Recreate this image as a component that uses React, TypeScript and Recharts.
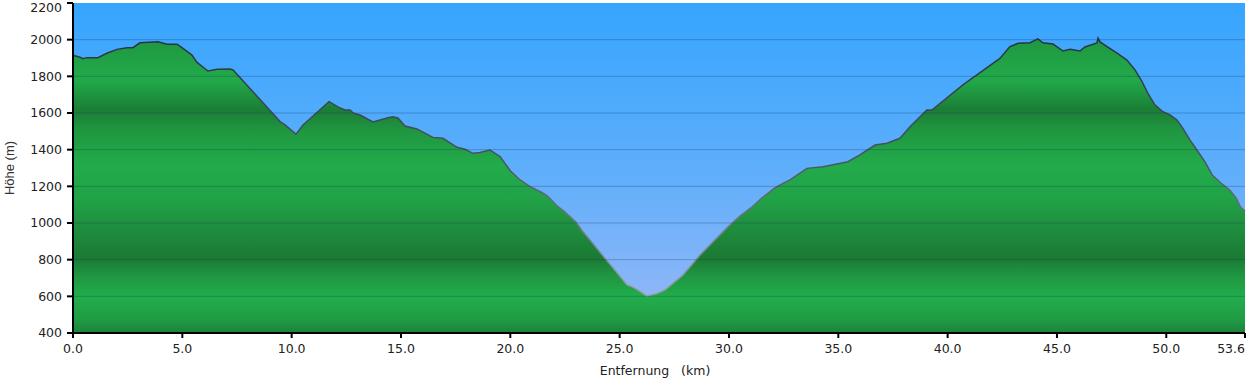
import { AreaChart, Area, XAxis, YAxis, CartesianGrid, ReferenceLine } from 'recharts'

// distance along the route (km) and elevation (m)
const distances = [
  0, 0.32, 0.46, 0.64, 1.14, 1.55, 2.01, 2.47, 2.74, 3.06, 3.89, 4.3, 4.76, 5.03, 5.44, 5.67,
  6.17, 6.59, 7.18, 7.32, 9.47, 9.7, 10.2, 10.52, 11.71, 12.21, 12.44, 12.67, 12.81, 13.13,
  13.72, 14.04, 14.41, 14.63, 14.86, 15.18, 15.73, 16.46, 16.92, 17.56, 17.93, 18.29, 18.61,
  19.07, 19.53, 20.0, 20.4, 20.9, 21.4, 21.7, 22.1, 22.5, 23.0, 23.3, 23.64, 24.33, 25.34,
  25.56, 25.79, 26.25, 26.71, 27.07, 27.9, 28.68, 29.36, 30.0, 30.5, 31.0, 31.5, 32.1, 32.6,
  32.79, 33.57, 34.3, 35.44, 35.99, 36.68, 37.23, 37.82, 38.28, 39.05, 39.28, 40.7, 42.39,
  42.85, 43.22, 43.77, 44.13, 44.36, 44.82, 45.28, 45.6, 46.05, 46.28, 46.83, 46.88, 46.97,
  47.29, 47.75, 48.2, 48.57, 48.89, 49.16, 49.48, 49.85, 50.17, 50.49, 50.76, 51.08, 51.4,
  51.77, 52.1, 52.5, 52.9, 53.2, 53.4, 53.6
]
const elevations = [
  1915, 1904, 1896, 1902, 1902, 1926, 1947, 1956, 1956, 1983, 1989, 1975, 1975, 1953, 1916, 1876,
  1829, 1838, 1840, 1835, 1553, 1535, 1484, 1535, 1662, 1627, 1616, 1616, 1600, 1589,
  1551, 1562, 1574, 1580, 1573, 1529, 1513, 1467, 1462, 1413, 1402, 1380, 1385,
  1398, 1362, 1285, 1240, 1198, 1169, 1147, 1098, 1060, 1005, 955, 907, 807, 662,
  653, 638, 602, 616, 635, 716, 825, 907, 984, 1038, 1082, 1136, 1191, 1224,
  1235, 1298, 1307, 1334, 1371, 1425, 1435, 1462, 1525, 1616, 1616, 1753, 1898,
  1962, 1980, 1983, 2004, 1983, 1976, 1938, 1947, 1938, 1960, 1982, 2008, 1988,
  1962, 1926, 1889, 1835, 1771, 1707, 1644, 1607, 1589, 1562, 1516, 1453, 1398,
  1333, 1262, 1218, 1180, 1136, 1087, 1065
]

const xTicks = [0, 5, 10, 15, 20, 25, 30, 35, 40, 45, 50, 53.6]
const yTicks = [400, 600, 800, 1000, 1200, 1400, 1600, 1800, 2000, 2200]
const gridLevels = [600, 800, 1000, 1200, 1400, 1600, 1800, 2000]

const data = distances.map((km, i) => ({ km, h: elevations[i] }))

const tickFont = { fontFamily: 'DejaVu Sans, Verdana, sans-serif', fontSize: 12.5, fill: '#222' }

function DistanceTick(props: any) {
  const { x, y, payload } = props
  const last = payload.value === xTicks[xTicks.length - 1]
  return (
    <text x={x} y={y} dy="0.71em" textAnchor={last ? 'end' : 'middle'} {...tickFont}>
      {payload.value.toFixed(1)}
    </text>
  )
}

function HeightTick(props: any) {
  const { x, y, payload } = props
  // top label is pushed down so it stays inside the picture
  return (
    <text x={x} y={Math.max(y, 8)} dy="0.355em" textAnchor="end" {...tickFont}>
      {payload.value}
    </text>
  )
}

export default function App() {
  return (
    <div style={{ position: 'absolute', left: 0, top: 0, background: '#fff' }}>
      <AreaChart width={1246} height={385} data={data} margin={{ top: 3, right: 1, bottom: 0, left: 0 }}>
        <defs>
          <linearGradient id="sky" x1="0" y1="0" x2="0" y2="1">
            <stop offset="0%" stopColor="#36a5fe" />
            <stop offset="50%" stopColor="#5eaefb" />
            <stop offset="100%" stopColor="#9ab9f6" />
          </linearGradient>
          <linearGradient id="ground" gradientUnits="userSpaceOnUse" x1="0" y1="3" x2="0" y2="333">
            <stop offset="0" stopColor="#1d8a3c" />
            <stop offset="0.112" stopColor="#1f9842" />
            <stop offset="0.233" stopColor="#22aa4a" />
            <stop offset="0.324" stopColor="#1b7d36" />
            <stop offset="0.385" stopColor="#1f9640" />
            <stop offset="0.491" stopColor="#22ab4b" />
            <stop offset="0.597" stopColor="#21a247" />
            <stop offset="0.673" stopColor="#1f8f3f" />
            <stop offset="0.773" stopColor="#1b7a34" />
            <stop offset="0.824" stopColor="#1f9541" />
            <stop offset="0.891" stopColor="#22ad4b" />
            <stop offset="0.961" stopColor="#209b44" />
            <stop offset="1" stopColor="#1c8239" />
          </linearGradient>
          <linearGradient id="edge" gradientUnits="userSpaceOnUse" x1="0" y1="30" x2="0" y2="300">
            <stop offset="0" stopColor="#243240" />
            <stop offset="0.5" stopColor="#4a5766" />
            <stop offset="1" stopColor="#9aa3ad" />
          </linearGradient>
        </defs>

        <CartesianGrid horizontal={false} vertical={false} fill="url(#sky)" fillOpacity={1} />

        <XAxis
          dataKey="km"
          type="number"
          domain={[0, 53.6]}
          ticks={xTicks}
          interval={0}
          height={52}
          axisLine={{ stroke: '#000', strokeWidth: 2 }}
          tickLine={{ stroke: '#000', strokeWidth: 2 }}
          tickSize={5}
          tickMargin={6}
          tick={<DistanceTick />}
          label={{
            content: ({ viewBox }: any) => (
              <text
                x={viewBox.x + viewBox.width / 2 - 4}
                y={viewBox.y + 42}
                textAnchor="middle"
                fontFamily="DejaVu Sans, Verdana, sans-serif"
                fontSize={12.5}
                fill="#222"
              >
                {'Entfernung\u00a0\u00a0\u00a0(km)'}
              </text>
            )
          }}
        />

        <YAxis
          type="number"
          domain={[400, 2200]}
          ticks={yTicks}
          interval={0}
          width={73}
          axisLine={{ stroke: '#000', strokeWidth: 2 }}
          tickLine={{ stroke: '#000', strokeWidth: 2 }}
          tickSize={6}
          tickMargin={5}
          tick={<HeightTick />}
          label={{
            content: ({ viewBox }: any) => {
              const cy = viewBox.y + viewBox.height / 2
              return (
                <text
                  x={9}
                  y={cy}
                  transform={`rotate(-90 9 ${cy})`}
                  textAnchor="middle"
                  dominantBaseline="central"
                  fontFamily="Liberation Sans, Arial, sans-serif"
                  fontSize={13}
                  fill="#333"
                >
                  Höhe (m)
                </text>
              )
            }
          }}
        />

        <Area
          type="linear"
          dataKey="h"
          fill="url(#ground)"
          fillOpacity={1}
          stroke="url(#edge)"
          strokeWidth={1.5}
          dot={false}
          activeDot={false}
          isAnimationActive={false}
        />

        {gridLevels.map(v => (
          <ReferenceLine key={v} y={v} stroke="rgba(20, 45, 90, 0.28)" strokeWidth={1} />
        ))}
      </AreaChart>
    </div>
  )
}
